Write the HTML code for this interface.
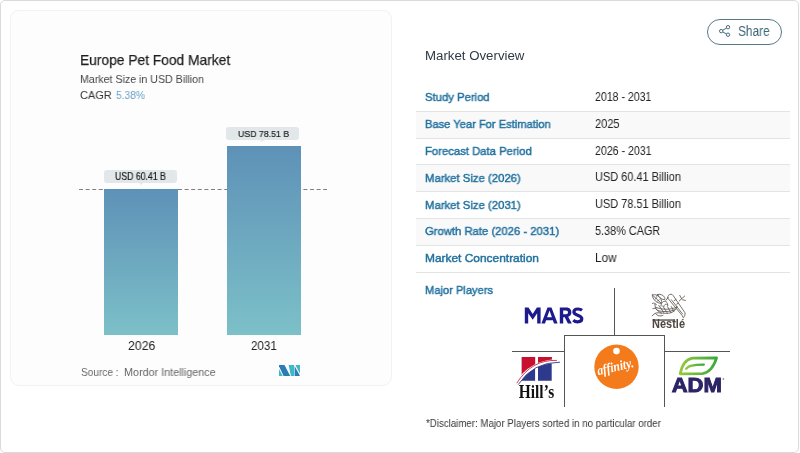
<!DOCTYPE html>
<html><head><meta charset="utf-8">
<style>
*{margin:0;padding:0;box-sizing:border-box}
html,body{width:800px;height:453px;background:#fff;overflow:hidden}
body{font-family:"Liberation Sans",sans-serif;position:relative}
.tx{position:absolute;white-space:nowrap;transform-origin:0 0;will-change:transform}
#outer{position:absolute;left:0;top:0;width:799px;height:453px;border:1px solid #dadada;border-radius:5px}
#left{position:absolute;left:10px;top:10px;width:382px;height:376px;border:1px solid #f2f2f2;border-radius:9px;background:#fdfdfd}
.bar{position:absolute;background:linear-gradient(#5e91b7,#7cc0c8)}
.lbl{position:absolute;background:#e2e8ea;border-radius:3px}
.lbl:after{content:"";position:absolute;left:50%;bottom:-2px;margin-left:-2px;border-left:2px solid transparent;border-right:2px solid transparent;border-top:2px solid #e3e9ec}
#dash{position:absolute;left:79px;top:189px;width:248px;height:1px;background:repeating-linear-gradient(90deg,#8a8a8a 0 4px,transparent 4px 6.6px)}
#share{position:absolute;left:707px;top:18.5px;width:75px;height:26px;border:1.15px solid #56798a;border-radius:13px}
.row{position:absolute;left:416px;width:374px;height:1px;background:#e3e3e3}
.stripe{position:absolute;left:416px;width:374px;background:#f9f9f9}
.ln{position:absolute;background:#555}
svg{position:absolute;will-change:transform}
</style></head>
<body>
<div id="outer"></div>
<div id="left"></div>

<svg style="left:0;top:0" width="400" height="200"><line x1="79" y1="189.5" x2="327" y2="189.5" stroke="#808080" stroke-width="1" stroke-dasharray="4 2.6"/></svg>
<div class="bar" style="left:104px;top:189px;width:74px;height:146px"></div>
<div class="bar" style="left:227px;top:146px;width:74px;height:189px"></div>
<div class="lbl" style="left:104px;top:169.7px;width:73px;height:13.3px"></div>
<div class="lbl" style="left:226px;top:126.5px;width:72.5px;height:13px"></div>
<svg style="left:279px;top:365px" width="21" height="11" viewBox="0 0 21 10.8">
  <polygon points="0,1.2 0,0 5.5,0 11.2,10.8 4.6,10.8" fill="#2a7db5"/>
  <polygon points="0,3.8 3.7,10.8 0,10.8" fill="#3db8c4"/>
  <polygon points="9.6,0 15,0 15.1,10.8 11.9,10.8" fill="#3db8c4"/>
  <polygon points="15.6,0.9 21,10.8 15.6,10.8" fill="#2a7db5"/>
  <polygon points="16.4,0 21,0 21,8.6" fill="#3db8c4"/>
</svg>

<div id="share"></div>
<svg style="left:719px;top:25px" width="12" height="12" viewBox="0 0 12 12" fill="none" stroke="#3c6577" stroke-width="0.95">
  <circle cx="9" cy="2.2" r="1.7"/><circle cx="2.2" cy="6.1" r="1.7"/><circle cx="9" cy="9.7" r="1.7"/>
  <path d="M3.8 5.2 7.5 3.1M3.8 7 7.5 8.9"/>
</svg>

<div class="stripe" style="top:111px;height:27px"></div>
<div class="stripe" style="top:164px;height:27px"></div>
<div class="stripe" style="top:218px;height:27px"></div>
<div class="row" style="top:111px"></div>
<div class="row" style="top:138px"></div>
<div class="row" style="top:164px"></div>
<div class="row" style="top:191px"></div>
<div class="row" style="top:218px"></div>
<div class="row" style="top:245px"></div>
<div class="row" style="top:272px"></div>

<!-- logo grid lines -->
<div class="ln" style="left:614px;top:288px;width:1px;height:48px"></div>
<div class="ln" style="left:564px;top:335px;width:101px;height:1px"></div>
<div class="ln" style="left:564px;top:335px;width:1px;height:72px"></div>
<div class="ln" style="left:664px;top:335px;width:1px;height:72px"></div>
<div class="ln" style="left:512px;top:351px;width:52px;height:1px"></div>
<div class="ln" style="left:664px;top:351px;width:66px;height:1px"></div>

<svg style="left:0;top:0" width="800" height="453" viewBox="0 0 800 453">
 <defs>
  <linearGradient id="leafg" x1="0" y1="0" x2="1" y2="0">
   <stop offset="0" stop-color="#93c83e"/><stop offset="1" stop-color="#38a93a"/>
  </linearGradient>
  <clipPath id="hclip"><rect x="521.8" y="357" width="13.3" height="23.8"/><rect x="538" y="357" width="13.7" height="23.8"/></clipPath>
 </defs>
 <!-- MARS -->
 <g transform="translate(524.8,307.4)" fill="#1c1a8c">
  <path d="M0,16V0H3.7L7.9,6.6L12.1,0H15.8V16H12.4V5.9L7.9,12.4L3.4,5.9V16Z"/>
  <path fill-rule="evenodd" d="M16.6,16L22.7,0H26.7L32.8,16H29.2L28.1,12.8H21.3L20.2,16ZM22.3,9.8H27.1L24.7,3.2Z"/>
  <path fill-rule="evenodd" d="M35,16V0H41.6C45,0 46.6,2.2 46.6,4.9C46.6,7.2 45.4,8.8 43.4,9.4L47,16H43.1L39.9,9.8H38.4V16ZM38.4,3H41.2C42.6,3 43.2,3.8 43.2,4.9C43.2,6 42.6,6.9 41.2,6.9H38.4Z"/>
  <path fill="none" stroke="#1c1a8c" stroke-width="3.2" d="M57.2,2.9C56,1.9 54.6,1.6 53.2,1.6C50.7,1.6 49.1,2.8 49.1,4.6C49.1,8.4 57,7.1 57,11.4C57,13.4 55.3,14.4 52.8,14.4C51,14.4 49.5,13.7 48.5,12.7"/>
 </g>
 <!-- Nestle nest -->
 <g fill="none" stroke="#5f5650" stroke-width="0.85" stroke-linecap="round" stroke-linejoin="round">
  <path d="M667.8,298C667.4,295.8 669,294.2 671,294.2C672,294.2 672.6,294.8 673.2,295.6L685,312.8C685.4,314.4 684.6,316.4 683.4,317.8C682.6,316.4 681.6,314.6 680.4,313.4L668.6,299.2C668.2,298.8 667.9,298.4 667.8,298Z"/>
  <path d="M667.8,298L665.8,300.4"/>
  <path d="M671.4,299.8L682.6,314M674.2,300.6L676,299.4M676.6,304.2L678.2,303.2"/>
  <path d="M679.2,301L684.7,296M681.6,298.8L679.8,295.4M682.6,299.8L685.4,300.4"/>
  <path d="M654.8,304.2C655.4,311.4 660.6,313.6 666.6,313.4C671.8,313.2 676,311 677,306.4"/>
  <path d="M655.8,307.2C661.4,309.8 669.8,310 676.4,307.4M657.4,310.4C662.8,312.2 670,312 675,309.6M658.8,305.4L663.8,312.6M662.8,306L667.4,313.2M667.4,306.6L671,312.8M671.4,306.6L673.8,311.6"/>
  <path d="M661,306.2C661,302.2 663.6,300.4 666.2,301.8C667.4,302.6 667.8,304 667.6,305.4M663.8,306.6C664.2,304.2 666.4,303.4 668,305"/>
  <path d="M652.4,295C655.2,293.8 658.8,295.4 660.6,298.4C661.8,300.6 661.8,302.6 661.4,303.4C658.6,303.4 655.4,301.8 653.8,299.2C652.8,297.6 652.4,296.2 652.4,295Z"/>
  <path d="M653.2,295.8L661,303M655.4,299L657,297.6M657.6,301L659.2,299.8M656.4,296.4L657.4,295"/>
  <path d="M658,294.4C660.6,293.8 663.4,295.2 664.6,297.4C665,298.4 665,299.2 664.8,299.6C662.4,299.6 660,298.4 658.8,296.6C658.2,295.8 658,295 658,294.4Z"/>
  <path d="M652.4,303.4C654,302.6 655.8,303.2 656.4,304.8M652.8,308.6C654.4,307.8 656,308.2 656.8,309.6"/>
  <path d="M652.2,315.8C654.6,312.6 658.6,311.8 661.6,313.8M655.6,313.6C657.4,316 660.2,316.6 663,315.4"/>
 </g>
 <!-- Nestle text -->
 <text x="652.1" y="327.9" font-family="Liberation Sans" font-weight="bold" font-size="12.2" fill="#4f4640" textLength="32.9" lengthAdjust="spacingAndGlyphs">Nestlé</text>
 <rect x="652.6" y="319.4" width="22.5" height="1.3" fill="#4f4640"/>
 <!-- Hill's mark -->
 <g clip-path="url(#hclip)">
  <rect x="520" y="355" width="34" height="28" fill="#2d3a8c"/>
  <path d="M516,355H556V361.3Q532,360 516,383.8Z" fill="#c8102e"/>
 </g>
 <path d="M516.6,384Q532,360 560,361.5" fill="none" stroke="#fff" stroke-width="3.6"/>
 <path d="M516.8,383.2Q531.6,359.4 557,360.4" fill="none" stroke="#c8102e" stroke-width="0.8"/>
 <path d="M518.2,384.6Q533,362 560,362.2" fill="none" stroke="#2d3a8c" stroke-width="0.9"/>
 <text x="518.8" y="397.7" font-family="Liberation Serif" font-weight="bold" font-size="18.6" fill="#111" textLength="35.4" lengthAdjust="spacingAndGlyphs">Hill’s</text>
 <!-- affinity -->
 <circle cx="616.5" cy="366.7" r="22.2" fill="#f47b1c"/>
 <circle cx="616.5" cy="351.1" r="3.3" fill="#fff"/>
 <text x="0" y="0" transform="translate(598.2,375.2) rotate(-13)" font-family="Liberation Serif" font-style="italic" font-weight="bold" font-size="13.6" fill="#fff" textLength="37.2" lengthAdjust="spacingAndGlyphs">affinity.</text>
 <!-- ADM leaf -->
 <path d="M680.2,373.8C682,364.6 685.6,359.4 692.4,358.2L716.6,357.9C714.2,365.4 710.4,372.4 702.6,373.6Z" fill="none" stroke="url(#leafg)" stroke-width="2.7" stroke-linejoin="round"/>
 <path d="M686.2,368.8C688.6,365.8 692.2,364.8 703.8,364.6" fill="none" stroke="url(#leafg)" stroke-width="2.3" stroke-linecap="round"/>
 <!-- ADM text -->
 <text x="671.7" y="391.6" font-family="Liberation Sans" font-weight="bold" font-size="19.4" fill="#2b2466" stroke="#2b2466" stroke-width="0.9" textLength="50.2" lengthAdjust="spacingAndGlyphs">ADM</text>
 <circle cx="723.4" cy="379" r="0.9" fill="#999"/>
</svg>


<div class="tx" style="left:79.72px;top:52.20px;font-size:15.12px;line-height:15.12px;color:#1f1f1f;font-weight:normal;transform:scaleX(0.9122);-webkit-text-stroke:0.25px #1f1f1f;">Europe Pet Food Market</div>
<div class="tx" style="left:79.57px;top:73.58px;font-size:11.48px;line-height:11.48px;color:#444444;font-weight:normal;transform:scaleX(0.9263);">Market Size in USD Billion</div>
<div class="tx" style="left:79.68px;top:90.38px;font-size:11.48px;line-height:11.48px;color:#333333;font-weight:normal;transform:scaleX(0.9585);">CAGR</div>
<div class="tx" style="left:115.68px;top:90.38px;font-size:11.48px;line-height:11.48px;color:#6aa3c8;font-weight:normal;transform:scaleX(0.8915);">5.38%</div>
<div class="tx" style="left:115.05px;top:171.51px;font-size:10.03px;line-height:10.03px;color:#1c1c1c;font-weight:normal;transform:scaleX(0.8698);-webkit-text-stroke:0.2px #1c1c1c;">USD 60.41 B</div>
<div class="tx" style="left:237.95px;top:128.72px;font-size:9.67px;line-height:9.67px;color:#1c1c1c;font-weight:normal;transform:scaleX(0.9070);-webkit-text-stroke:0.2px #1c1c1c;">USD 78.51 B</div>
<div class="tx" style="left:127.67px;top:339.68px;font-size:12.72px;line-height:12.72px;color:#222222;font-weight:normal;transform:scaleX(0.9657);">2026</div>
<div class="tx" style="left:250.96px;top:339.68px;font-size:12.72px;line-height:12.72px;color:#222222;font-weight:normal;transform:scaleX(0.9106);">2031</div>
<div class="tx" style="left:81.43px;top:366.52px;font-size:10.90px;line-height:10.90px;color:#666666;font-weight:normal;transform:scaleX(0.9256);">Source :</div>
<div class="tx" style="left:123.91px;top:366.52px;font-size:10.90px;line-height:10.90px;color:#666666;font-weight:normal;transform:scaleX(0.9905);">Mordor Intelligence</div>
<div class="tx" style="left:738.48px;top:23.57px;font-size:14.39px;line-height:14.39px;color:#3c6577;font-weight:normal;transform:scaleX(0.8283);">Share</div>
<div class="tx" style="left:425.16px;top:48.70px;font-size:13.23px;line-height:13.23px;color:#2f3a45;font-weight:normal;transform:scaleX(1.0026);">Market Overview</div>
<div class="tx" style="left:425.33px;top:283.96px;font-size:11.63px;line-height:11.63px;color:#22719f;font-weight:normal;transform:scaleX(0.9569);-webkit-text-stroke:0.45px #22719f;">Major Players</div>
<div class="tx" style="left:425.85px;top:418.64px;font-size:10.47px;line-height:10.47px;color:#363636;font-weight:normal;transform:scaleX(0.9259);">*Disclaimer: Major Players sorted in no particular order</div>
<div class="tx" style="left:425.45px;top:91.46px;font-size:11.63px;line-height:11.63px;color:#22719f;font-weight:normal;transform:scaleX(0.9716);-webkit-text-stroke:0.45px #22719f;">Study Period</div>
<div class="tx" style="left:424.93px;top:118.26px;font-size:11.63px;line-height:11.63px;color:#22719f;font-weight:normal;transform:scaleX(0.9580);-webkit-text-stroke:0.45px #22719f;">Base Year For Estimation</div>
<div class="tx" style="left:424.92px;top:145.06px;font-size:11.63px;line-height:11.63px;color:#22719f;font-weight:normal;transform:scaleX(0.9713);-webkit-text-stroke:0.45px #22719f;">Forecast Data Period</div>
<div class="tx" style="left:424.91px;top:171.86px;font-size:11.63px;line-height:11.63px;color:#22719f;font-weight:normal;transform:scaleX(0.9750);-webkit-text-stroke:0.45px #22719f;">Market Size (2026)</div>
<div class="tx" style="left:424.91px;top:198.66px;font-size:11.63px;line-height:11.63px;color:#22719f;font-weight:normal;transform:scaleX(0.9750);-webkit-text-stroke:0.45px #22719f;">Market Size (2031)</div>
<div class="tx" style="left:425.27px;top:225.46px;font-size:11.63px;line-height:11.63px;color:#22719f;font-weight:normal;transform:scaleX(0.9696);-webkit-text-stroke:0.45px #22719f;">Growth Rate (2026 - 2031)</div>
<div class="tx" style="left:424.87px;top:252.26px;font-size:11.63px;line-height:11.63px;color:#22719f;font-weight:normal;transform:scaleX(1.0255);-webkit-text-stroke:0.45px #22719f;">Market Concentration</div>
<div class="tx" style="left:595.00px;top:90.99px;font-size:12.06px;line-height:12.06px;color:#222222;font-weight:normal;transform:scaleX(0.8762);">2018 - 2031</div>
<div class="tx" style="left:594.98px;top:117.79px;font-size:12.06px;line-height:12.06px;color:#222222;font-weight:normal;transform:scaleX(0.9153);">2025</div>
<div class="tx" style="left:595.00px;top:144.59px;font-size:12.06px;line-height:12.06px;color:#222222;font-weight:normal;transform:scaleX(0.8794);">2026 - 2031</div>
<div class="tx" style="left:594.81px;top:171.39px;font-size:12.06px;line-height:12.06px;color:#222222;font-weight:normal;transform:scaleX(0.9096);">USD 60.41 Billion</div>
<div class="tx" style="left:594.81px;top:198.19px;font-size:12.06px;line-height:12.06px;color:#222222;font-weight:normal;transform:scaleX(0.9096);">USD 78.51 Billion</div>
<div class="tx" style="left:595.16px;top:224.99px;font-size:12.06px;line-height:12.06px;color:#222222;font-weight:normal;transform:scaleX(0.9020);">5.38% CAGR</div>
<div class="tx" style="left:594.59px;top:251.79px;font-size:12.06px;line-height:12.06px;color:#222222;font-weight:normal;transform:scaleX(0.9702);">Low</div>
</body></html>
